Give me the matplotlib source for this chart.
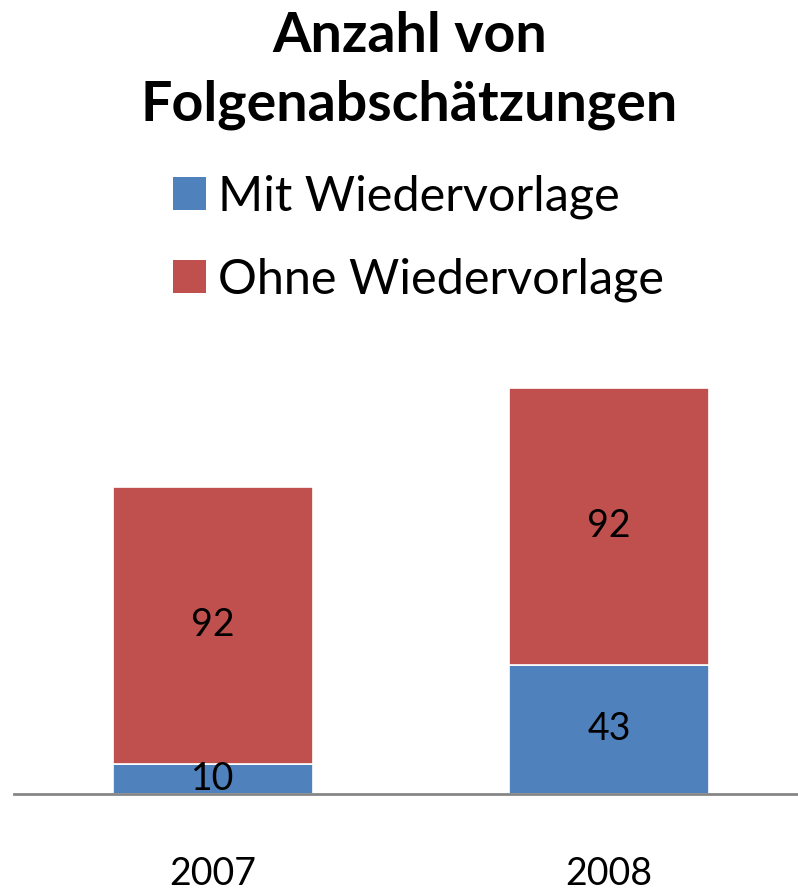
import numpy as np
import matplotlib.pyplot as plt
from matplotlib.patches import Patch

# -----------------------------
# Data
# -----------------------------
years = ["2007", "2008"]
mit_wv = [10, 43]
ohne_wv = [92, 92]

series_names = ["Mit Wiedervorlage", "Ohne Wiedervorlage"]
title_lines = ["Anzahl von", "Folgenabschätzungen"]

BLUE = "#4F81BD"
RED = "#C0504D"

plt.rcParams["font.family"] = ["Lato", "DejaVu Sans"]

fig = plt.figure(figsize=(7.98, 8.93), dpi=100)
ax = fig.add_axes([14 / 798, 0.1109, 1 - 14 / 798, 0.5084])

x = np.arange(len(years))
w = 0.505
b1 = ax.bar(x, mit_wv, w, color=BLUE, edgecolor="white", linewidth=1.2)
b2 = ax.bar(x, ohne_wv, w, bottom=mit_wv, color=RED, edgecolor="white", linewidth=1.2)

ax.bar_label(b1, labels=[str(v) for v in mit_wv], label_type="center", fontsize=27)
ax.bar_label(b2, labels=[str(v) for v in ohne_wv], label_type="center", fontsize=27)

ax.set_xlim(-0.503, 1.477)
ax.set_ylim(0, 150.8)
ax.set_xticks(x)
ax.set_xticklabels(years, fontsize=27)
ax.tick_params(axis="x", length=0, pad=45)
ax.set_yticks([])
for s in ["top", "left", "right"]:
    ax.spines[s].set_visible(False)
ax.spines["bottom"].set_color("#868686")
ax.spines["bottom"].set_linewidth(2)

# title, two lines
fig.text(0.513, 0.9418, title_lines[0], ha="center", va="baseline", fontsize=40, fontweight="bold")
fig.text(0.513, 0.8656, title_lines[1], ha="center", va="baseline", fontsize=40, fontweight="bold")

handles = [Patch(facecolor=BLUE), Patch(facecolor=RED)]
fig.legend(handles, series_names, loc="upper center", bbox_to_anchor=(0.524, 0.8265),
           frameon=False, fontsize=35, handlelength=0.68, handleheight=0.68,
           handletextpad=0.25, labelspacing=0.79, borderaxespad=0)

fig.savefig("out.png", dpi=100)
